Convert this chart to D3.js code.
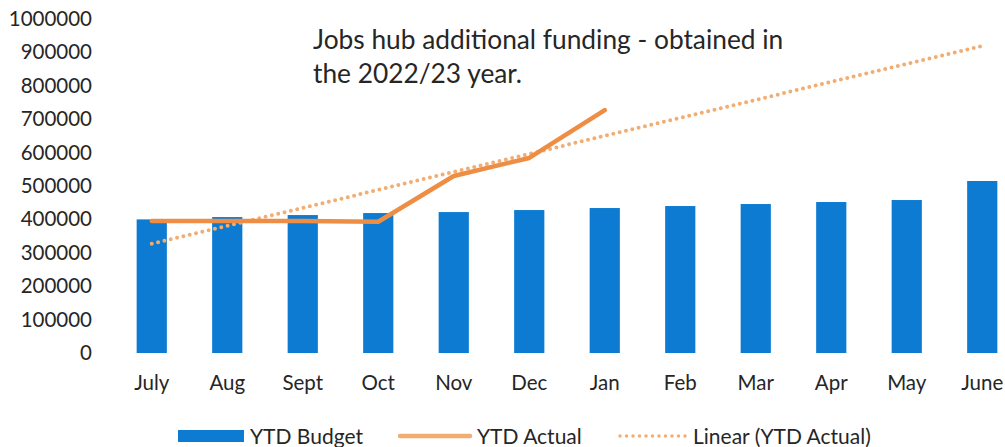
<!DOCTYPE html>
<html>
<head>
<meta charset="utf-8">
<script src="https://cdn.jsdelivr.net/npm/d3@7"></script>
<style>
  html, body { margin: 0; padding: 0; background: #fff; }
  svg { display: block; }
  text { font-family: Lato, "Open Sans", sans-serif; fill: #262626; }
</style>
</head>
<body>
<svg id="chart" width="1005" height="447"></svg>
<script>
// Monthly year-to-date figures
const months = ["July", "Aug", "Sept", "Oct", "Nov", "Dec", "Jan", "Feb", "Mar", "Apr", "May", "June"];
const ytdBudget = [400000, 407000, 413000, 419000, 422000, 428000, 434000, 440000, 446000, 452000, 458000, 515000];
const ytdActual = [395000, 395000, 395000, 393000, 530000, 584000, 727000];
const yTicks = [0, 100000, 200000, 300000, 400000, 500000, 600000, 700000, 800000, 900000, 1000000];
const noteLines = ["Jobs hub additional funding - obtained in", "the 2022/23 year."];
const legendLabels = ["YTD Budget", "YTD Actual", "Linear (YTD Actual)"];

const colors = { budget: "#0C7BD1", actual: "#EE8E45", trend: "#F2AE72" };

const svg = d3.select("#chart");

const x = d3.scaleBand()
  .domain(months)
  .range([114, 1020])
  .paddingInner(0.6)
  .paddingOuter(0.3);

const y = d3.scaleLinear()
  .domain([0, 1000000])
  .range([353, 19]);

const cx = m => x(m) + x.bandwidth() / 2;

// Y axis labels (no axis line, no ticks)
const yAxis = svg.append("g")
  .attr("transform", "translate(92,0)")
  .call(d3.axisLeft(y).tickValues(yTicks).tickSize(0).tickPadding(0).tickFormat(d3.format("d")));
yAxis.select(".domain").remove();
yAxis.selectAll("text")
  .style("font-family", "Lato, sans-serif")
  .style("font-size", "20.5px")
  .attr("fill", "#262626");

// X axis labels
const xAxis = svg.append("g")
  .attr("transform", "translate(0,375)")
  .call(d3.axisBottom(x).tickSize(0).tickPadding(0));
xAxis.select(".domain").remove();
xAxis.selectAll("text")
  .style("font-family", "Lato, sans-serif")
  .style("font-size", "20.5px")
  .attr("fill", "#262626");

// Budget bars
svg.append("g").selectAll("rect")
  .data(ytdBudget)
  .join("rect")
  .attr("x", (d, i) => x(months[i]))
  .attr("width", x.bandwidth())
  .attr("y", d => y(d))
  .attr("height", d => y(0) - y(d))
  .attr("fill", colors.budget);

// Least-squares trend of the actuals, projected across the full year
const n = ytdActual.length;
const xs = d3.range(1, n + 1);
const mx = d3.mean(xs), my = d3.mean(ytdActual);
const slope = d3.sum(xs, (v, i) => (v - mx) * (ytdActual[i] - my)) / d3.sum(xs, v => (v - mx) ** 2);
const intercept = my - slope * mx;
const trend = months.map((m, i) => intercept + slope * (i + 1));

const line = d3.line()
  .x((d, i) => cx(months[i]))
  .y(d => y(d));

svg.append("path")
  .datum(trend)
  .attr("d", line)
  .attr("fill", "none")
  .attr("stroke", colors.trend)
  .attr("stroke-width", 4)
  .attr("stroke-dasharray", "0 6.5")
  .attr("stroke-linecap", "round");

svg.append("path")
  .datum(ytdActual)
  .attr("d", line)
  .attr("fill", "none")
  .attr("stroke", colors.actual)
  .attr("stroke-width", 4.5)
  .attr("stroke-linejoin", "round")
  .attr("stroke-linecap", "round");

// Annotation
svg.append("g").selectAll("text")
  .data(noteLines)
  .join("text")
  .attr("x", 313)
  .attr("y", (d, i) => 49 + i * 34)
  .style("font-size", "26.3px")
  .text(d => d);

// Legend
const lg = svg.append("g").attr("transform", "translate(0,436)");
lg.append("rect").attr("x", 178).attr("y", -6).attr("width", 66).attr("height", 12).attr("fill", colors.budget);
lg.append("text").attr("x", 250).attr("y", 7.5).style("font-size", "21px").text(legendLabels[0]);
lg.append("line").attr("x1", 400).attr("x2", 470).attr("y1", 0).attr("y2", 0)
  .attr("stroke", colors.trend).attr("stroke-width", 4.5).attr("stroke-linecap", "round");
lg.append("text").attr("x", 477).attr("y", 7.5).style("font-size", "21px").text(legendLabels[1]);
lg.append("line").attr("x1", 620).attr("x2", 686).attr("y1", 0).attr("y2", 0)
  .attr("stroke", colors.trend).attr("stroke-width", 3.5).attr("stroke-dasharray", "0 6.5").attr("stroke-linecap", "round");
lg.append("text").attr("x", 693).attr("y", 7.5).style("font-size", "21px").text(legendLabels[2]);
</script>
</body>
</html>
